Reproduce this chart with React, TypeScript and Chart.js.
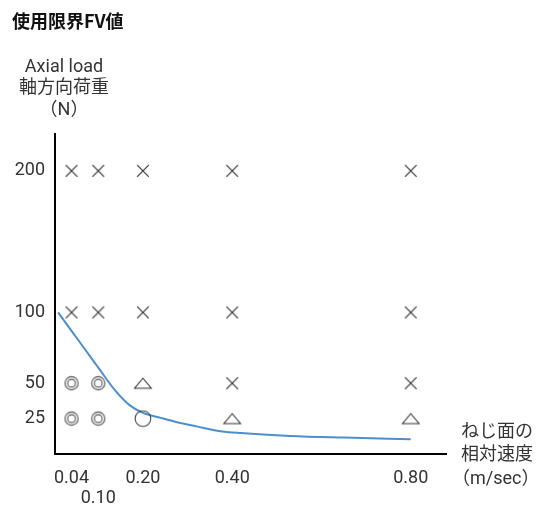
import React, { useEffect, useRef } from "react";
import { Chart, registerables } from "chart.js";

Chart.register(...registerables);

// ---- data ----
const speeds = [0.04, 0.1, 0.2, 0.4, 0.8];
const speedLabels = ["0.04", "0.10", "0.20", "0.40", "0.80"];
const loads = [25, 50, 100, 200];
const loadLabels = ["25", "50", "100", "200"];

// rating symbols for each load level at each speed
const rating200 = ["x", "x", "x", "x", "x"];
const rating100 = ["x", "x", "x", "x", "x"];
const rating50 = ["dbl", "dbl", "tri", "x", "x"];
const rating25 = ["dbl", "dbl", "circ", "tri", "tri"];

// FV limit curve
const curveSpeed = [0.01, 0.04, 0.07, 0.1, 0.14, 0.17, 0.2, 0.24, 0.27, 0.32, 0.37, 0.42, 0.53, 0.65, 0.8];
const curveLoad = [100, 87, 74, 61, 44, 34.5, 29, 25.5, 23, 19.5, 16.3, 14.8, 12.8, 11.6, 10.4];

const titleText = "使用限界FV値";
const yTitleLines = ["Axial load", "軸方向荷重", "（N）"];
const xTitleLines = ["ねじ面の", "相対速度", "（m/sec）"];

const FONT = "Roboto, 'Noto Sans CJK JP', sans-serif";

function makeCanvas(w: number, h: number) {
  const c = document.createElement("canvas");
  c.width = w;
  c.height = h;
  return c;
}

function crossMarker() {
  const c = makeCanvas(14, 14);
  const g = c.getContext("2d")!;
  g.strokeStyle = "#333";
  g.lineWidth = 1.2;
  g.beginPath();
  g.moveTo(1.2, 1.2);
  g.lineTo(12.8, 12.8);
  g.moveTo(12.8, 1.2);
  g.lineTo(1.2, 12.8);
  g.stroke();
  return c;
}
function doubleCircleMarker() {
  const c = makeCanvas(18, 18);
  const g = c.getContext("2d")!;
  g.strokeStyle = "#555";
  g.lineWidth = 1.1;
  g.beginPath();
  g.arc(9, 9, 6.6, 0, Math.PI * 2);
  g.stroke();
  g.beginPath();
  g.arc(9, 9, 3.9, 0, Math.PI * 2);
  g.stroke();
  return c;
}
function circleMarker() {
  const c = makeCanvas(18, 18);
  const g = c.getContext("2d")!;
  g.strokeStyle = "#444";
  g.lineWidth = 1.1;
  g.beginPath();
  g.arc(9, 9, 7.8, 0, Math.PI * 2);
  g.stroke();
  return c;
}
function triangleMarker() {
  const c = makeCanvas(20, 14);
  const g = c.getContext("2d")!;
  g.strokeStyle = "#333";
  g.lineWidth = 1.1;
  g.beginPath();
  g.moveTo(1.7, 12);
  g.lineTo(18.3, 12);
  g.lineTo(10, 2);
  g.closePath();
  g.stroke();
  return c;
}

function pointsFor(sym: string) {
  const rows: [number, string[]][] = [
    [200, rating200],
    [100, rating100],
    [50, rating50],
    [25, rating25],
  ];
  const pts: { x: number; y: number }[] = [];
  rows.forEach(([load, r]) => {
    r.forEach((s, i) => {
      if (s === sym) pts.push({ x: speeds[i], y: load });
    });
  });
  return pts;
}

const textPlugin = {
  id: "texts",
  afterDraw(chart: any) {
    const { ctx, chartArea } = chart;
    ctx.save();
    ctx.fillStyle = "#111";
    ctx.textBaseline = "middle";
    ctx.textAlign = "left";
    ctx.font = `bold 18px 'Noto Sans CJK JP', sans-serif`;
    ctx.fillText(titleText, 12, 21);

    ctx.fillStyle = "#333";
    ctx.font = `18px ${FONT}`;
    ctx.textAlign = "center";
    const yx = chartArea.left + 9;
    const yTop = chartArea.top - 67;
    yTitleLines.forEach((t, i) => ctx.fillText(t, yx, yTop + i * 21.5));

    ctx.textAlign = "left";
    const xx = chartArea.right + 15;
    const xTop = chartArea.bottom - 22;
    xTitleLines.forEach((t, i) => ctx.fillText(t, xx - (i === 2 ? 9 : 0), xTop + i * 23.8));
    ctx.restore();
  },
};

export default function App() {
  const ref = useRef<HTMLCanvasElement | null>(null);
  useEffect(() => {
    if (!ref.current) return;
    const markerDs = (sym: string, img: HTMLCanvasElement) => ({
      type: "scatter" as const,
      data: pointsFor(sym),
      pointStyle: img,
      pointRadius: 8,
      pointHoverRadius: 8,
      showLine: false,
      order: 0,
    });
    const chart = new Chart(ref.current, {
      type: "scatter",
      data: {
        datasets: [
          markerDs("x", crossMarker()),
          markerDs("dbl", doubleCircleMarker()),
          markerDs("circ", circleMarker()),
          markerDs("tri", triangleMarker()),
          {
            type: "line" as const,
            data: curveSpeed.map((x, i) => ({ x, y: curveLoad[i] })),
            borderColor: "#4b8fcc",
            borderWidth: 2,
            pointRadius: 0,
            showLine: true,
            cubicInterpolationMode: "monotone",
            fill: false,
            order: 1,
          } as any,
        ],
      },
      options: {
        animation: false,
        responsive: true,
        maintainAspectRatio: false,
        layout: { padding: { left: 0, right: 91, top: 134, bottom: 0 } },
        plugins: {
          legend: { display: false },
          tooltip: { enabled: false },
          title: { display: false },
        },
        scales: {
          x: {
            type: "linear",
            min: 0.003,
            max: 0.879,
            grid: { display: false, drawTicks: false },
            border: { display: true, color: "#000", width: 2 },
            afterBuildTicks: (scale: any) => {
              scale.ticks = speeds.map((v) => ({ value: v }));
            },
            afterFit: (scale: any) => {
              scale.height = 55;
            },
            ticks: {
              autoSkip: false,
              maxRotation: 0,
              minRotation: 0,
              padding: 15,
              color: "#333",
              font: { family: FONT, size: 18, lineHeight: 1.1 },
              callback: (_v: any, i: number) => (i === 1 ? ["", speedLabels[i]] : speedLabels[i]),
            },
          },
          y: {
            type: "linear",
            min: 0,
            max: 226,
            grid: { display: false, drawTicks: false },
            border: { display: true, color: "#000", width: 2 },
            afterBuildTicks: (scale: any) => {
              scale.ticks = loads.map((v) => ({ value: v }));
            },
            afterFit: (scale: any) => {
              scale.width = 55;
            },
            ticks: {
              autoSkip: false,
              padding: 10,
              color: "#333",
              font: { family: FONT, size: 18 },
              callback: (_v: any, i: number) => loadLabels[i],
            },
          },
        },
      },
      plugins: [textPlugin],
    });
    return () => chart.destroy();
  }, []);

  return (
    <div style={{ position: "fixed", left: 0, top: 0, width: 537, height: 509, background: "#fff" }}>
      <canvas ref={ref} />
    </div>
  );
}
